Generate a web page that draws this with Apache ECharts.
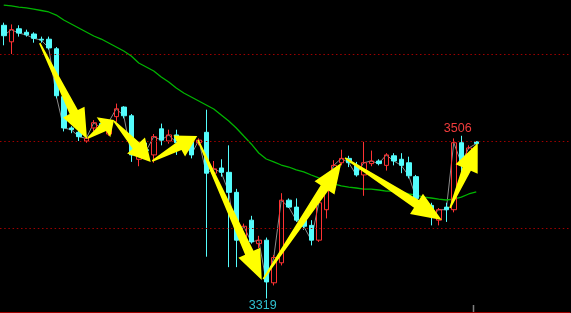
<!DOCTYPE html>
<html>
<head>
<meta charset="utf-8">
<script src="https://cdn.jsdelivr.net/npm/echarts@6/dist/echarts.min.js"></script>
<style>
html,body{margin:0;padding:0;background:#000;overflow:hidden;}
#chart{width:571px;height:313px;}
</style>
</head>
<body>
<div id="chart"></div>
<script>
// ---- data ----
// each candle: [open, close, low, high]
const candles = [
  [3633,3621,3610,3636],[3614,3628,3600,3634],[3629,3624,3620,3633],[3625,3622,3620,3628],
  [3623,3618,3613,3625],[3617,3616,3613,3620],[3617,3607,3605,3620],[3606,3552,3549,3608],
  [3551,3515,3511,3552],[3515,3513,3509,3517],[3510,3505,3500,3513],[3500,3503,3498,3505],
  [3515,3521,3511,3524],[3520,3515,3511,3523],[3508,3522,3506,3524],[3528,3537,3522,3543],
  [3539,3529,3526,3540],[3529,3484,3476,3531],[3479,3485,3471,3492],[3490,3489,3480,3498],
  [3484,3505,3475,3508],[3514,3501,3495,3520],[3500,3507,3497,3513],[3507,3498,3484,3513],
  [3495,3500,3492,3502],[3503,3484,3480,3505],[3498,3501,3495,3503],[3510,3463,3367,3536],
  [3463,3468,3461,3477],[3469,3464,3459,3479],[3464,3441,3355,3495],[3441,3386,3355,3445],
  [3389,3402,3380,3405],[3409,3384,3382,3414],[3382,3386,3377,3391],[3386,3338,3319,3389],
  [3337,3366,3334,3369],[3360,3432,3357,3440],[3432,3424,3423,3434],[3424,3409,3407,3434],
  [3409,3402,3398,3414],[3403,3386,3380,3409],[3386,3429,3384,3432],[3421,3452,3411,3455],
  [3452,3472,3449,3478],[3475,3480,3472,3490],[3480,3475,3470,3483],[3472,3461,3459,3476],
  [3461,3475,3437,3499],[3474,3477,3471,3489],[3477,3474,3472,3479],[3472,3484,3466,3486],
  [3483,3477,3472,3486],[3479,3472,3463,3486],[3475,3460,3457,3482],[3459,3434,3432,3461],
  [3432,3426,3421,3437],[3426,3413,3403,3429],[3409,3421,3403,3423],[3424,3421,3407,3429],
  [3421,3498,3418,3503],[3498,3475,3459,3506],[3478,3492,3475,3495],[3499,3497,3495,3500]
];
// moving average (green line)
const maLine = [
  3656.3,3655.2,3654.0,3652.9,3651.7,3650.0,3648.3,3644.8,3639.1,3634.5,
  3629.9,3625.3,3620.7,3617.2,3612.6,3608.0,3603.4,3597.7,3589.7,3585.1,
  3580.5,3573.6,3567.8,3560.9,3555.2,3550.6,3546.0,3541.4,3536.8,3529.9,
  3523.0,3514.9,3505.7,3496.6,3486.2,3479.3,3475.9,3472.4,3470.1,3466.7,
  3464.4,3460.9,3457.5,3454.0,3450.6,3448.3,3447.1,3446.0,3444.8,3444.8,
  3443.7,3442.5,3442.5,3441.4,3439.1,3437.9,3435.6,3434.5,3433.3,3432.2,
  3433.3,3435.6,3439.1,3441.4
];
// horizontal reference levels (dotted red)
const refLevels = [3400, 3500, 3600];
// total slots on the time axis (empty slots on the right)
const slotCount = 76;
// yellow arrows: [startIndex, startPrice, endIndex, endPrice]
const arrows = [
  [4.8, 3612.6, 11.1, 3502.3],
  [11.2, 3503.4, 14.7, 3524.1],
  [14.7, 3523.0, 19.6, 3475.9],
  [19.8, 3477.0, 25.8, 3505.7],
  [25.9, 3501.1, 34.4, 3340.2],
  [34.6, 3341.4, 45.0, 3474.7],
  [45.5, 3480.5, 58.4, 3409.2],
  [59.5, 3423.0, 63.2, 3497.7]
];
// labelled extremes: candle index and which end
const extremes = [
  {index: 61, kind: 'high'},
  {index: 35, kind: 'low'}
];
// session separator after this candle index
const sessionBreaks = [62];

// ---- chart ----
const Y_MIN = 3303.45, Y_MAX = 3662.07;
const categories = Array.from({length: slotCount}, (_, i) => String(i + 1));
const closes = candles.map(c => c[1]);

const chart = echarts.init(document.getElementById('chart'), null, {renderer: 'canvas'});

function arrowShape(params, api) {
  const s = api.coord([api.value(0), api.value(1)]);
  const e = api.coord([api.value(2), api.value(3)]);
  const dx = e[0] - s[0], dy = e[1] - s[1];
  const len = Math.sqrt(dx * dx + dy * dy);
  const ux = dx / len, uy = dy / len;
  const nx = -uy, ny = ux;
  const H = Math.min(30, len * 0.4);
  const hw = 12, w1 = 4.6, w0 = 0.8;
  const bx = e[0] - ux * H, by = e[1] - uy * H;
  const pts = [
    [s[0] + nx * w0, s[1] + ny * w0],
    [bx + nx * w1, by + ny * w1],
    [bx + nx * hw, by + ny * hw],
    [e[0], e[1]],
    [bx - nx * hw, by - ny * hw],
    [bx - nx * w1, by - ny * w1],
    [s[0] - nx * w0, s[1] - ny * w0]
  ];
  return {type: 'polygon', shape: {points: pts}, style: {fill: '#ffff00', stroke: null}};
}

function separatorShape(params, api) {
  const p = api.coord([api.value(0) + 0.5, Y_MIN]);
  const x = Math.round(p[0]) + 0.5;
  return {type: 'line', shape: {x1: x, y1: p[1], x2: x, y2: p[1] - 7},
          style: {stroke: '#808080', lineWidth: 1.5}};
}

const option = {
  backgroundColor: '#000000',
  animation: false,
  grid: {left: 0, right: 1, top: 0, bottom: 1},
  xAxis: [
    {
      type: 'category', data: categories, boundaryGap: true,
      axisLine: {show: true, lineStyle: {color: '#a00000', width: 1}},
      axisTick: {show: false}, axisLabel: {show: false}, splitLine: {show: false}
    },
    {
      type: 'value', min: -0.5, max: slotCount - 0.5, show: false,
      splitLine: {show: false}
    }
  ],
  yAxis: {
    type: 'value', min: Y_MIN, max: Y_MAX, show: false, scale: true,
    splitLine: {show: false}
  },
  series: [
    {
      name: 'close', type: 'line', data: closes, showSymbol: false, z: 2,
      lineStyle: {color: '#8c8c8c', width: 1}, silent: true
    },
    {
      name: 'MA', type: 'line', data: maLine, showSymbol: false, z: 2,
      lineStyle: {color: '#00b400', width: 1.3}, silent: true
    },
    {
      name: 'k', type: 'candlestick', data: candles, barWidth: 5, z: 3,
      itemStyle: {
        color: 'transparent', color0: '#54fcfc',
        borderColor: '#ff3232', borderColor0: '#54fcfc', borderWidth: 1
      },
      markLine: {
        silent: true, symbol: ['none', 'none'], label: {show: false},
        lineStyle: {color: '#a00000', width: 1.2, type: [1.5, 2.7]},
        data: refLevels.map(v => ({yAxis: v}))
      },
      markPoint: {
        symbol: 'circle', symbolSize: 0, silent: true,
        data: extremes.map(e => {
          const v = e.kind === 'high' ? candles[e.index][3] : candles[e.index][2];
          return {
            coord: [e.index, v], value: v,
            label: {
              show: true, position: e.kind === 'high' ? 'top' : 'bottom',
              distance: 1, offset: [-3.5, 0],
              color: e.kind === 'high' ? '#f03c3c' : '#30c0d0',
              fontSize: 12.5, fontFamily: 'Liberation Sans, Arial, sans-serif',
              formatter: String(v)
            }
          };
        })
      }
    },
    {
      name: 'arrows', type: 'custom', xAxisIndex: 1, yAxisIndex: 0, z: 10,
      data: arrows, renderItem: arrowShape, encode: {x: [0, 2], y: [1, 3]}, silent: true
    },
    {
      name: 'sep', type: 'custom', xAxisIndex: 1, yAxisIndex: 0, z: 10,
      data: sessionBreaks.map(i => [i, Y_MIN]), renderItem: separatorShape,
      encode: {x: 0, y: 1}, silent: true, clip: false
    }
  ]
};
chart.setOption(option);
</script>
</body>
</html>
